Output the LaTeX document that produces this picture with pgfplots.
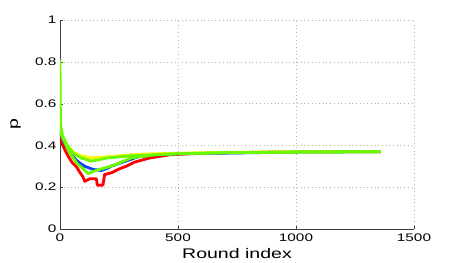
\documentclass[border=0pt]{standalone}
\usepackage{fontspec}
\setmainfont{Liberation Sans}[FakeStretch=1.4]
\usepackage{pgfplots}
\pgfplotsset{compat=1.18}
\definecolor{mred}{RGB}{255,0,0}
\definecolor{mblue}{RGB}{20,60,255}
\definecolor{myel}{RGB}{250,245,0}
\definecolor{mgreen}{RGB}{105,250,0}
\begin{document}
\begin{tikzpicture}
\begin{axis}[
  scale only axis, width=354bp, height=209bp,
  xmin=0, xmax=1500, ymin=0, ymax=1,
  axis x line*=bottom, axis y line*=left,
  axis line style={draw=black!75, line width=0.6pt},
  xtick={0,500,1000,1500}, ytick={0,0.2,0.4,0.6,0.8,1},
  yticklabels={0,0.2,0.4,0.6,0.8,1},
  xticklabels={0,500,1000,1500},
  tick align=inside, major tick length=3bp,
  tick style={black!75},
  grid=major, grid style={dash pattern=on 0.7bp off 3bp, black!30, line width=0.5pt},
  tick label style={font=\fontsize{11}{12}\selectfont},
  xticklabel style={yshift=-1bp},
  xlabel={Round index}, ylabel={p},
  label style={font=\fontsize{14}{16}\selectfont},
  xlabel style={at={(axis description cs:0.5,-0.140)}, anchor=base},
  ylabel style={at={(axis description cs:-0.1257,0.5)}, anchor=center},
  every axis plot/.append style={line width=2.8bp, line join=round},
]
\addplot[mred] coordinates {(0,0.46)(5,0.42)(20,0.38)(34,0.35)(50,0.32)(68,0.30)(85,0.27)(97,0.25)(105,0.228)(125,0.24)(154,0.24)(158,0.21)(182,0.21)(189,0.26)(220,0.27)(246,0.285)(280,0.30)(316,0.32)(381,0.34)(466,0.355)(550,0.36)(700,0.365)(900,0.368)(1100,0.37)(1360,0.37)};
\addplot[mblue] coordinates {(0,0.47)(10,0.43)(30,0.39)(50,0.355)(68,0.33)(85,0.315)(105,0.30)(140,0.285)(175,0.28)(200,0.29)(216,0.30)(240,0.31)(274,0.323)(330,0.345)(400,0.355)(500,0.36)(700,0.363)(1000,0.368)(1360,0.37)};
\addplot[myel] coordinates {(0,0.48)(10,0.44)(30,0.40)(60,0.365)(90,0.35)(130,0.34)(200,0.345)(300,0.355)(400,0.36)(600,0.365)(1000,0.37)(1360,0.37)};
\addplot[mgreen] coordinates {(0,0.47)(10,0.44)(30,0.39)(50,0.35)(75,0.31)(97,0.29)(119,0.265)(140,0.275)(161,0.283)(200,0.295)(232,0.307)(270,0.325)(301,0.34)(400,0.355)(500,0.36)(700,0.365)(1000,0.368)(1360,0.37)};
\addplot[mgreen] coordinates {(0,0.81)(2,0.5)(10,0.45)(30,0.40)(60,0.36)(90,0.34)(130,0.325)(160,0.33)(200,0.34)(300,0.35)(400,0.355)(500,0.36)(700,0.365)(1000,0.368)(1360,0.37)};
\end{axis}
\pgfresetboundingbox
\path (-60bp,-34bp) rectangle ++(457bp,263bp);
\end{tikzpicture}
\end{document}
